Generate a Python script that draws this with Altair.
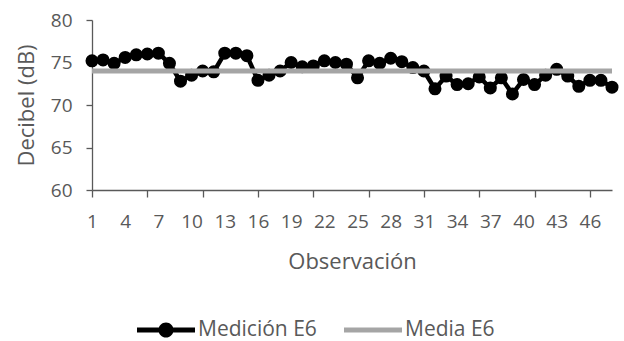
import altair as alt
import pandas as pd

# ---------------- data ----------------
observaciones = list(range(1, 49))
medicion_e6 = [
    75.2, 75.3, 74.9, 75.6, 75.9, 76.0, 76.1, 74.9, 72.8, 73.5,
    74.0, 73.9, 76.1, 76.1, 75.8, 72.9, 73.5, 74.0, 75.0, 74.5,
    74.6, 75.2, 75.0, 74.8, 73.2, 75.2, 74.9, 75.5, 75.1, 74.4,
    74.0, 71.9, 73.4, 72.4, 72.5, 73.3, 72.0, 73.2, 71.3, 73.0,
    72.4, 73.5, 74.2, 73.4, 72.2, 72.9, 72.9, 72.1,
]
media_e6 = 74.0
series = ["Medición E6", "Media E6"]
y_ticks = [60, 65, 70, 75, 80]
x_label_vals = list(range(1, 47, 3))
x_tick_vals = list(range(1, 47, 5))

df = pd.DataFrame({
    "obs": observaciones * 2,
    "val": medicion_e6 + [media_e6] * len(observaciones),
    "serie": [series[0]] * len(observaciones) + [series[1]] * len(observaciones),
})

FONT = "Open Sans"
TXT = "#595959"
AX = "#595959"
BLACK = "#000000"
GRAY = "#A5A5A5"

x_vals = sorted(set(x_label_vals) | set(x_tick_vals))

x_enc = alt.X(
    "obs:Q",
    scale=alt.Scale(domain=[1, 48], nice=False, zero=False),
    axis=alt.Axis(
        values=x_vals,
        labelExpr="(datum.value - 1) % 3 == 0 ? datum.label : ''",
        tickOpacity={"condition": {"test": "(datum.value - 1) % 5 == 0", "value": 1}, "value": 0},
        title="Observación",
        grid=False,
        domainColor=AX, domainWidth=1.3,
        tickColor=AX, tickWidth=1.3, tickSize=7,
        labelFont=FONT, labelFontSize=19, labelColor=TXT, labelPadding=15,
        labelOverlap=False, labelFlush=False,
        titleFont=FONT, titleFontSize=22, titleColor=TXT, titleFontWeight="normal",
        titleBaseline="alphabetic", titleY=78,
    ),
)

y_enc = alt.Y(
    "val:Q",
    scale=alt.Scale(domain=[60, 80], nice=False, zero=False),
    axis=alt.Axis(
        values=y_ticks,
        title="Decibel (dB)",
        grid=False,
        domainColor=AX, domainWidth=1.3,
        tickColor=AX, tickWidth=1.3, tickSize=6,
        labelFont=FONT, labelFontSize=19, labelColor=TXT, labelPadding=14,
        titleFont=FONT, titleFontSize=22, titleColor=TXT, titleFontWeight="normal",
        titleX=-66, titleY=85, titleAlign="center", titleBaseline="middle",
    ),
)

path_med = ("M-1,-0.085 L1,-0.085 L1,0.085 L-1,0.085 Z "
            "M-0.26,0 A0.26,0.26 0 1,1 0.26,0 A0.26,0.26 0 1,1 -0.26,0 Z")
path_mean = "M-1,-0.085 L1,-0.085 L1,0.085 L-1,0.085 Z"

leg = alt.Legend(
    orient="none", legendX=45, legendY=281, direction="horizontal",
    title=None, symbolSize=3364, symbolStrokeWidth=0, symbolOpacity=1,
    labelOffset=3, columnPadding=27, padding=0, labelLimit=0,
    labelFont=FONT, labelFontSize=21, labelColor=TXT,
)

base = alt.Chart(df)
med = base.transform_filter(alt.datum.serie == series[0])

line_med = med.mark_line(color=BLACK, strokeWidth=4.5).encode(x=x_enc, y=y_enc)

pts_med = med.mark_point(
    filled=True, size=170, opacity=1, strokeWidth=0, shape="circle", color=BLACK
).encode(x=x_enc, y=y_enc)

# invisible layer that only carries the legend
legend_layer = med.mark_point(filled=True, opacity=0, size=10).encode(
    x=x_enc, y=y_enc,
    color=alt.Color("serie:N", scale=alt.Scale(domain=series, range=[BLACK, GRAY]), legend=leg),
    shape=alt.Shape("serie:N", scale=alt.Scale(domain=series, range=[path_med, path_mean]), legend=leg),
)

line_mean = base.transform_filter(alt.datum.serie == series[1]).mark_line(
    color=GRAY, strokeWidth=5
).encode(x=x_enc, y=y_enc)

chart = alt.layer(line_med, pts_med, legend_layer, line_mean).properties(
    width=520, height=170,
    autosize=alt.AutoSizeParams(type="none"),
    padding={"left": 92, "top": 20, "right": 12, "bottom": 151},
    background="white",
).configure_view(stroke=None)

chart.save("out.html", embed_options={"renderer": "svg", "actions": False})
